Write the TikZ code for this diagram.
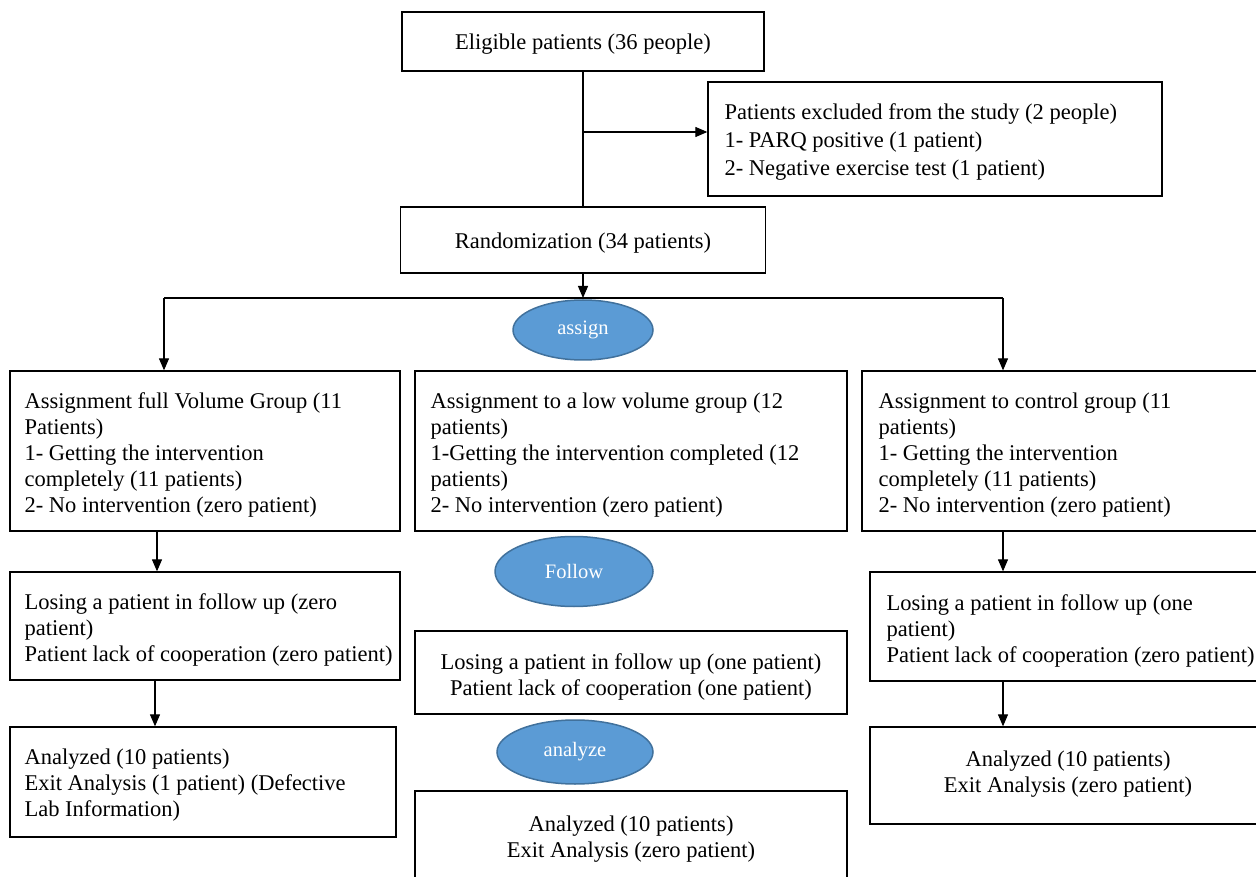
\documentclass[tikz,border=0pt]{standalone}
\usepackage{fontspec}
\setmainfont{Liberation Serif}
\usetikzlibrary{arrows.meta,shapes.geometric}
\definecolor{ovalfill}{HTML}{5B9BD5}
\definecolor{ovaldraw}{HTML}{41719C}
\begin{document}
\begin{tikzpicture}[x=1pt,y=-1pt,
  font=\fontsize{22.5}{26}\selectfont,
  box/.style={draw=black, line width=1.3pt, inner sep=0pt},
  txt/.style={inner sep=0pt, align=left, anchor=west},
  ctxt/.style={inner sep=0pt, align=center},
  oval/.style={ellipse, draw=ovaldraw, fill=ovalfill, text=white, line width=1.5pt, inner sep=0pt, font=\fontsize{20.5}{24}\selectfont},
  conn/.style={line width=1.1pt},
  arr/.style={conn, -{Triangle[length=12pt,width=10pt]}}]
\useasboundingbox (0,0) rectangle (1256,877);

% top
\node[box, minimum width=362, minimum height=59] (elig) at (583,41.5) {};
\node[ctxt] (eligt) at ([yshift=-3pt]elig.center) {Eligible patients (36 people)};
\node[box, minimum width=454, minimum height=114] (excl) at (935,139) {};
\node[txt, font=\fontsize{22.5}{28}\selectfont] (exclt) at ([xshift=17pt,yshift=-3pt]excl.west) {Patients excluded from the study (2 people)\\1- PARQ positive (1 patient)\\2- Negative exercise test (1 patient)};
\node[box, minimum width=365, minimum height=66] (rand) at (583,240) {};
\node[ctxt] (randt) at ([yshift=-3pt]rand.center) {Randomization (34 patients)};

\draw[conn] (elig.south) -- (rand.north);
\coordinate (excljoin) at (583,132);
\draw[arr] (excljoin) -- (excljoin -| excl.west);

% ovals
\node[oval, minimum width=140, minimum height=60] (assign) at (583,330) {assign};
\node[oval, minimum width=158, minimum height=70] (follow) at (574,571.5) {Follow};
\node[oval, minimum width=156, minimum height=64] (analyze) at (575,752) {analyze};

% row 1
\node[box, minimum width=390, minimum height=160] (a1) at (205,451) {};
\node[txt] (a1t) at ([xshift=15pt,yshift=-4pt]a1.west) {Assignment full Volume Group (11\\Patients)\\1- Getting the intervention\\completely (11 patients)\\2- No intervention (zero patient)};
\node[box, minimum width=432, minimum height=160] (b1) at (631,451) {};
\node[txt] (b1t) at ([xshift=16pt,yshift=-4pt]b1.west) {Assignment to a low volume group (12\\patients)\\1-Getting the intervention completed (12\\patients)\\2- No intervention (zero patient)};
\node[box, minimum width=396, minimum height=160] (c1) at (1060,451) {};
\node[txt] (c1t) at ([xshift=17pt,yshift=-4pt]c1.west) {Assignment to control group (11\\patients)\\1- Getting the intervention\\completely (11 patients)\\2- No intervention (zero patient)};

% split
\coordinate (split) at (583,298);
\coordinate (splitL) at (164,298);
\coordinate (splitR) at (1003,298);
\draw[arr] (rand.south) -- (split);
\draw[conn] (splitL) -- (splitR);
\draw[arr] (splitL) -- (splitL |- a1.north);
\draw[arr] (splitR) -- (splitR |- c1.north);

% row 2
\node[box, minimum width=390, minimum height=108] (a2) at (205,626) {};
\node[txt] (a2t) at ([xshift=15pt,yshift=-4pt]a2.west) {Losing a patient in follow up (zero\\patient)\\Patient lack of cooperation (zero patient)};
\node[box, minimum width=432, minimum height=83] (b2) at (631,672.5) {};
\node[ctxt] (b2t) at ([yshift=-4pt]b2.center) {Losing a patient in follow up (one patient)\\Patient lack of cooperation (one patient)};
\node[box, minimum width=388, minimum height=109] (c2) at (1064,626.5) {};
\node[txt] (c2t) at ([xshift=17pt,yshift=-4pt]c2.west) {Losing a patient in follow up (one\\patient)\\Patient lack of cooperation (zero patient)};

% row 3
\node[box, minimum width=386, minimum height=110] (a3) at (203,782) {};
\node[txt] (a3t) at ([xshift=15pt,yshift=-3pt]a3.west) {Analyzed (10 patients)\\Exit Analysis (1 patient) (Defective\\Lab Information)};
\node[box, minimum width=432, minimum height=91] (b3) at (631,836.5) {};
\node[ctxt] (b3t) at ([yshift=-3pt]b3.center) {Analyzed (10 patients)\\Exit Analysis (zero patient)};
\node[box, minimum width=388, minimum height=97] (c3) at (1064,775.5) {};
\node[ctxt] (c3t) at ([xshift=4pt,yshift=1pt]c3.center) {Analyzed (10 patients)\\Exit Analysis (zero patient)};

% vertical arrows
\draw[arr] ([xshift=-48pt]a1.south) -- ([xshift=-48pt]a1.south |- a2.north);
\draw[arr] ([xshift=-50pt]a2.south) -- ([xshift=-50pt]a2.south |- a3.north);
\draw[arr] ([xshift=-57pt]c1.south) -- ([xshift=-57pt]c1.south |- c2.north);
\draw[arr] ([xshift=-61pt]c2.south) -- ([xshift=-61pt]c2.south |- c3.north);
\end{tikzpicture}
\end{document}
